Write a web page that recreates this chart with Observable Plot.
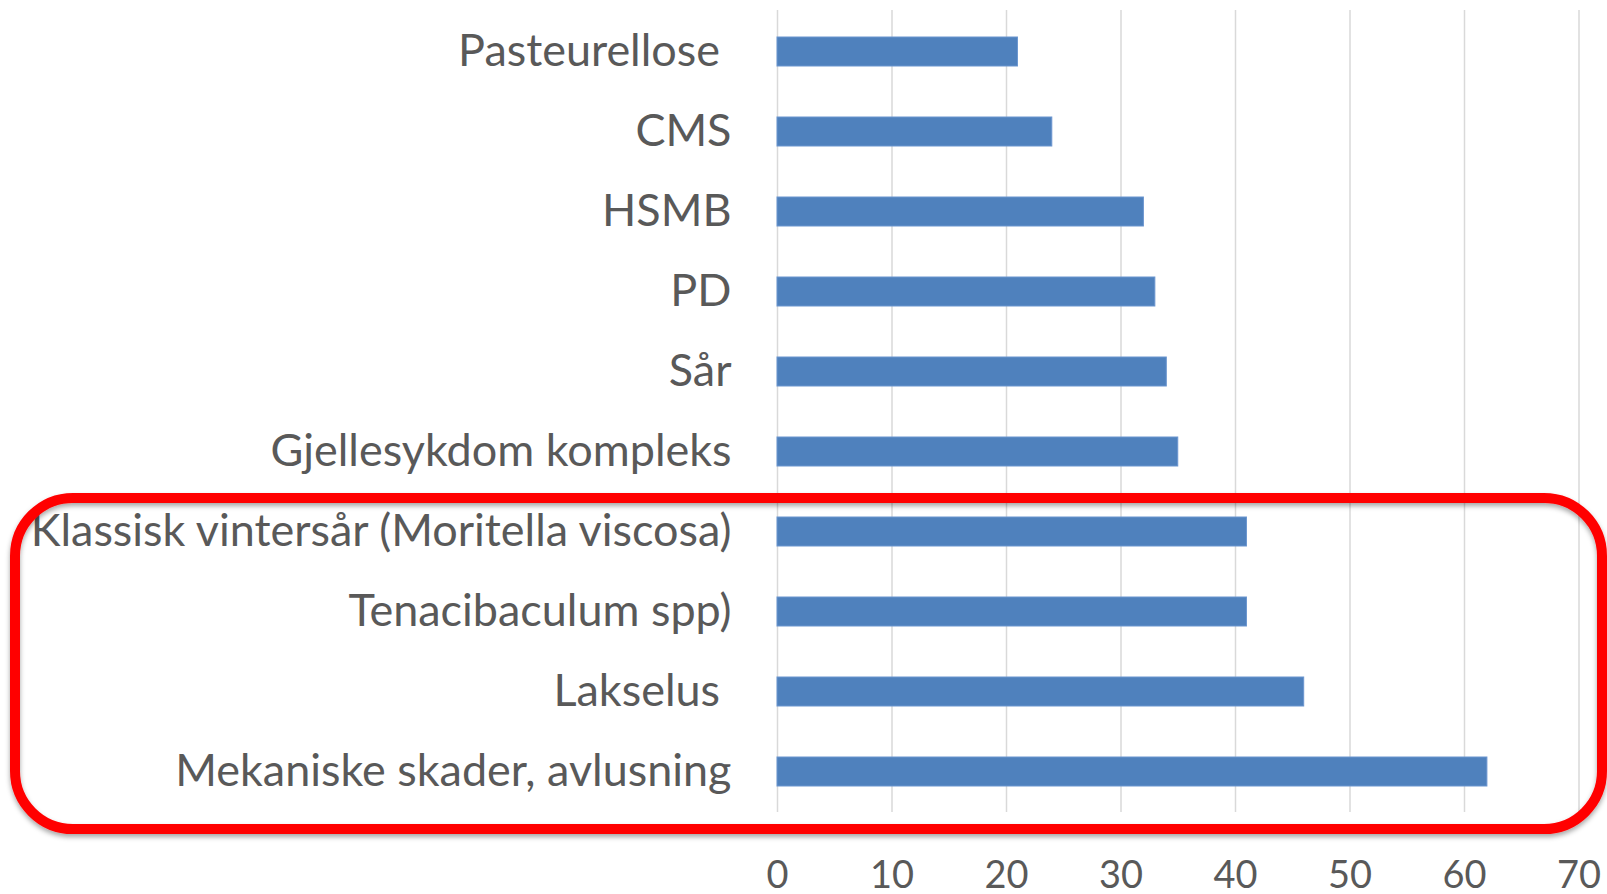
<!DOCTYPE html>
<html>
<head>
<meta charset="utf-8">
<script src="https://cdn.jsdelivr.net/npm/d3@7"></script>
<script src="https://cdn.jsdelivr.net/npm/@observablehq/plot@0.6"></script>
<style>
  html, body { margin: 0; padding: 0; background: #fff; }
  #chart svg { display: block; }
</style>
</head>
<body>
<div id="chart"></div>
<script>
// ---- data ----
const categories = [
  "Pasteurellose\u00a0",
  "CMS",
  "HSMB",
  "PD",
  "Sår",
  "Gjellesykdom kompleks",
  "Klassisk vintersår (Moritella viscosa)",
  "Tenacibaculum spp)",
  "Lakselus\u00a0",
  "Mekaniske skader, avlusning"
];
const values = [21, 24, 32, 33, 34, 35, 41, 41, 46, 62];
const xTicks = [0, 10, 20, 30, 40, 50, 60, 70];
const highlighted = [
  "Klassisk vintersår (Moritella viscosa)",
  "Tenacibaculum spp)",
  "Lakselus\u00a0",
  "Mekaniske skader, avlusning"
];

const data = categories.map((c, i) => ({category: c, value: values[i]}));

(function () {
  // ---- font sizing (match reference text widths) ----
  const FONT = "Lato";
  const ctx = document.createElement("canvas").getContext("2d");
  ctx.font = `48px ${FONT}`;
  const longest = "Klassisk vintersår (Moritella viscosa)";
  const labelSize = 48 * 704 / ctx.measureText(longest).width;
  const tickFont = 48 * 44 / ctx.measureText("70").width;

  const W = 1607, H = 894;
  const mTop = 10, mBottom = 82;
  const tickPad = (887 - (H - mBottom)) - 0.71 * tickFont;

  const plot = Plot.plot({
    width: W,
    height: H,
    marginLeft: 777,
    marginRight: 28.5,
    marginTop: mTop,
    marginBottom: mBottom,
    style: {fontFamily: FONT, color: "#595959", background: "#fff", overflow: "visible"},
    x: {domain: [0, 70]},
    y: {domain: categories, paddingInner: 0.642, paddingOuter: 0.32},
    marks: [
      Plot.gridX(xTicks, {stroke: "#d9d9d9", strokeOpacity: 1, strokeWidth: 1.5}),
      Plot.barX(data, {x: "value", y: "category", fill: "#4f81bd", stroke: "#6b95cf", strokeWidth: 1}),
      Plot.axisX(xTicks, {tickSize: 0, tickPadding: tickPad, fontSize: tickFont, label: null}),
      Plot.axisY({tickSize: 0, tickPadding: 46, fontSize: labelSize, label: null})
    ]
  });

  document.getElementById("chart").appendChild(plot);

  // ---- highlight rounded rectangle, positioned from the y scale ----
  const ys = plot.scale("y");
  const yPos = c => ys.apply(c) + ys.bandwidth / 2;
  const boxTop = yPos(highlighted[0]) - 0.42 * ys.step;
  const boxBottom = yPos(highlighted[highlighted.length - 1]) + 0.72 * ys.step;

  const svg = d3.select(plot);
  const defs = svg.append("defs");
  const f = defs.append("filter").attr("id", "shadow")
    .attr("x", "-5%").attr("y", "-5%").attr("width", "110%").attr("height", "120%");
  f.append("feDropShadow").attr("dx", 0).attr("dy", 3).attr("stdDeviation", 2.5)
    .attr("flood-color", "#000").attr("flood-opacity", 0.35);

  svg.append("rect")
    .attr("x", 15)
    .attr("y", boxTop)
    .attr("width", W - 5 - 15)
    .attr("height", boxBottom - boxTop)
    .attr("rx", 58)
    .attr("ry", 58)
    .attr("fill", "none")
    .attr("stroke", "#ff0000")
    .attr("stroke-width", 10)
    .attr("filter", "url(#shadow)");
})();
</script>
</body>
</html>
